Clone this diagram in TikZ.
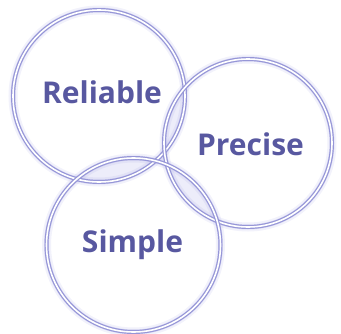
\documentclass[tikz,border=0pt]{standalone}
\usepackage{fontspec}
\setmainfont{Open Sans}
\definecolor{ring}{RGB}{150,150,215}
\definecolor{glow}{RGB}{165,165,228}
\definecolor{txt}{RGB}{88,88,160}
\tikzset{
  ringnode/.style={circle, inner sep=0pt, draw=ring, line width=1.2pt, double=white, double distance=1.6pt},
  glowwide/.style={draw=glow, line width=9pt, opacity=0.15},
  glowring/.style={draw=glow, line width=5pt, opacity=0.3},
  label/.style={anchor=base, text=txt, font=\fontsize{30}{30}\selectfont\bfseries, inner sep=0pt}
}
\begin{document}
\begin{tikzpicture}[x=1pt,y=-1pt]
\useasboundingbox (0,0) rectangle (341,333);
% lens fills
\begin{scope}
  \clip (99,96) circle (86);
  \fill[glow, opacity=0.2] (248,143) circle (84);
  \fill[glow, opacity=0.2] (133.5,245) circle (87);
\end{scope}
\begin{scope}
  \clip (248,143) circle (84);
  \fill[glow, opacity=0.2] (133.5,245) circle (87);
\end{scope}
% glow
\foreach \c/\r in {{(99,96)}/86, {(248,143)}/84, {(133.5,245)}/87} {
  \draw[glowwide] \c circle (\r);
  \draw[glowring] \c circle (\r);
}
% rings
\node[ringnode, minimum size=172pt] (rel) at (99,96) {};
\node[ringnode, minimum size=168pt] (pre) at (248,143) {};
\node[ringnode, minimum size=174pt] (sim) at (133.5,245) {};
% labels
\node[label] (lrel) at (102,103) {Reliable};
\node[label] (lpre) at (250.5,155) {Precise};
\node[label] (lsim) at (132.5,252) {Simple};
\end{tikzpicture}
\end{document}
